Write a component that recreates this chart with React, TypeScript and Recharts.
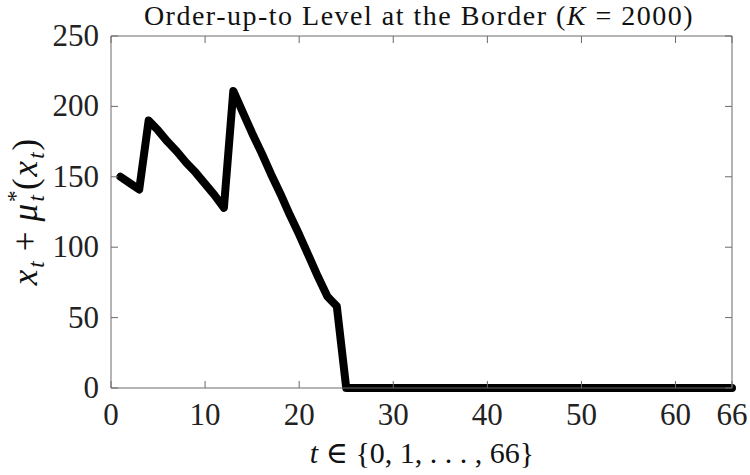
import * as R from "recharts";
import { Line, LineChart, XAxis, YAxis } from "recharts";

const periods = [
  1, 2, 3, 4, 5, 6, 7, 8, 9, 10, 11, 12, 13, 14, 15, 16, 17, 18, 19, 20, 21, 22,
  23, 24, 25, 26, 27, 28, 29, 30, 31, 32, 33, 34, 35, 36, 37, 38, 39, 40, 41, 42,
  43, 44, 45, 46, 47, 48, 49, 50, 51, 52, 53, 54, 55, 56, 57, 58, 59, 60, 61, 62,
  63, 64, 65, 66,
];
const orderUpTo = [
  150, 145.5, 141, 190, 183, 175, 168, 160, 153, 145, 137, 128, 211, 196, 181,
  167, 152, 138, 123, 109, 94, 79, 65, 58, 0, 0, 0, 0, 0, 0, 0, 0, 0, 0, 0, 0, 0,
  0, 0, 0, 0, 0, 0, 0, 0, 0, 0, 0, 0, 0, 0, 0, 0, 0, 0, 0, 0, 0, 0, 0, 0, 0, 0, 0,
  0, 0,
];
const xTicks = [0, 10, 20, 30, 40, 50, 60, 66];
const yTicks = [0, 50, 100, 150, 200, 250];
const X_MAX = 66;
const Y_MAX = 250;

const data = periods.map((t, i) => ({ t, level: orderUpTo[i] }));

const FONT = "'Liberation Serif', 'DejaVu Serif', serif";
const AXIS = "#6a6a6a";
const TICK_LEN = 7;
const X_MARGIN = 12;
const Y_MARGIN = 12;

const usePlot = () => {
  const hook = (R as any).usePlotArea;
  return hook ? hook() : null;
};

// bottom axis: label below, inward tick at bottom and top; last tick also draws the right edge
const BottomTick = (props: any) => {
  const { x, y, payload } = props;
  const pa = usePlot();
  const base = y - X_MARGIN;
  return (
    <g>
      <line x1={x} x2={x} y1={base} y2={base - TICK_LEN} stroke={AXIS} strokeWidth={1} />
      {pa && <line x1={x} x2={x} y1={pa.y} y2={pa.y + TICK_LEN} stroke={AXIS} strokeWidth={1} />}
      {pa && payload.value === X_MAX && (
        <line x1={x} x2={x} y1={pa.y} y2={pa.y + pa.height} stroke={AXIS} strokeWidth={1} />
      )}
      <text x={x} y={y + 25} textAnchor="middle" fontFamily={FONT} fontSize={31} fill="#222">
        {payload.value}
      </text>
    </g>
  );
};

// left axis: label, inward tick at left and right; top tick also draws the top edge
const LeftTick = (props: any) => {
  const { x, y, payload } = props;
  const pa = usePlot();
  const base = x + Y_MARGIN;
  const right = pa ? pa.x + pa.width : 0;
  return (
    <g>
      <line x1={base} x2={base + TICK_LEN} y1={y} y2={y} stroke={AXIS} strokeWidth={1} />
      {pa && <line x1={right} x2={right - TICK_LEN} y1={y} y2={y} stroke={AXIS} strokeWidth={1} />}
      {pa && payload.value === Y_MAX && (
        <line x1={pa.x} x2={right} y1={y} y2={y} stroke={AXIS} strokeWidth={1} />
      )}
      <text x={x} y={y + 10} textAnchor="end" fontFamily={FONT} fontSize={31} fill="#222">
        {payload.value}
      </text>
    </g>
  );
};

export default function App() {
  return (
    <div style={{ position: "absolute", left: 0, top: 0, width: 750, height: 475, background: "#fff" }}>
      <LineChart
        width={750}
        height={475}
        data={data}
        margin={{ top: 36, right: 18, left: 51, bottom: 37 }}
      >
        <XAxis
          dataKey="t"
          type="number"
          domain={[0, X_MAX]}
          ticks={xTicks}
          interval={0}
          height={50}
          stroke={AXIS}
          tickSize={0}
          tickMargin={X_MARGIN}
          tick={<BottomTick />}
        />
        <YAxis
          type="number"
          domain={[0, Y_MAX]}
          ticks={yTicks}
          interval={0}
          width={60}
          stroke={AXIS}
          tickSize={0}
          tickMargin={Y_MARGIN}
          tick={<LeftTick />}
        />
        <Line
          type="linear"
          dataKey="level"
          stroke="#000"
          strokeWidth={8}
          strokeLinejoin="round"
          strokeLinecap="round"
          dot={false}
          activeDot={false}
          isAnimationActive={false}
        />
        <text
          x={419}
          y={25}
          textAnchor="middle"
          fontFamily={FONT}
          fontSize={28}
          letterSpacing={1.5}
          fill="#111"
        >
          Order-up-to Level at the Border (<tspan fontStyle="italic">K</tspan> = 2000)
        </text>
        <text x={422} y={463} textAnchor="middle" fontFamily={FONT} fontSize={30} fill="#111">
          <tspan fontStyle="italic">t</tspan> ∈ {"{"}0, 1, . . . , 66{"}"}
        </text>
        <text
          transform="translate(37, 211) rotate(-90)"
          textAnchor="middle"
          fontFamily={FONT}
          fontSize={35}
          letterSpacing={2}
          fill="#111"
        >
          <tspan fontStyle="italic">x</tspan>
          <tspan fontStyle="italic" fontSize={23} dy={7}>t</tspan>
          <tspan dy={-7} dx={8}>+</tspan>
          <tspan fontStyle="italic" dx={8}>μ</tspan>
          <tspan fontSize={23} dy={-14}>*</tspan>
          <tspan fontStyle="italic" fontSize={23} dx={-13} dy={21}>t</tspan>
          <tspan dy={-7} dx={3}>(</tspan>
          <tspan fontStyle="italic">x</tspan>
          <tspan fontStyle="italic" fontSize={23} dy={7}>t</tspan>
          <tspan dy={-7}>)</tspan>
        </text>
      </LineChart>
    </div>
  );
}
